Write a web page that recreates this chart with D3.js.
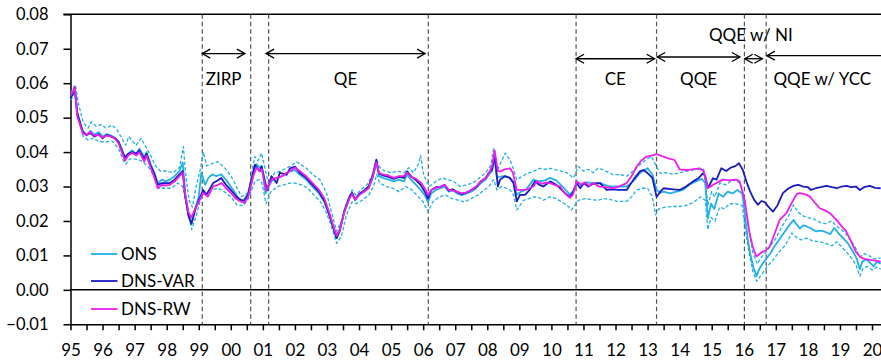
<!DOCTYPE html>
<html>
<head>
<meta charset="utf-8">
<script src="https://cdn.jsdelivr.net/npm/d3@7"></script>
<style>
  html, body { margin: 0; padding: 0; background: #fff; }
  svg { display: block; font-family: Lato, "Open Sans", sans-serif; }
</style>
</head>
<body>
<svg id="chart" width="881" height="363"></svg>
<script>
// Year tick labels on the horizontal axis (two-digit years)
const yearLabels = ["95","96","97","98","99","00","01","02","03","04","05","06","07","08","09","10","11","12","13","14","15","16","17","18","19","20"];
const yTicks = [-0.01, 0, 0.01, 0.02, 0.03, 0.04, 0.05, 0.06, 0.07, 0.08];

// Policy regime boundaries (decimal years) and labelled spans
const regimeLines = [1999.11, 2000.62, 2001.18, 2006.16, 2010.77, 2013.28, 2016.02, 2016.70];
const regimeSpans = [
  { label: "ZIRP",        from: 1999.11, to: 2000.44, arrowY: 0.0686, textY: 0.0595, left: true, right: true },
  { label: "QE",          from: 2001.10, to: 2006.06, arrowY: 0.0686, textY: 0.0595, left: true, right: true },
  { label: "CE",          from: 2010.77, to: 2013.22, arrowY: 0.0671, textY: 0.0595, left: true, right: true },
  { label: "QQE",         from: 2013.30, to: 2015.88, arrowY: 0.0676, textY: 0.0595, left: true, right: true },
  { label: "QQE w/ NI",   from: 2016.03, to: 2016.58, arrowY: 0.0671, textY: 0.0723, left: true, right: true, textAt: 2016.22 },
  { label: "QQE w/ YCC",  from: 2016.72, to: 2021.00, arrowY: 0.0680, textY: 0.0595, left: true, right: false, textAt: 2018.45 }
];

// ONS (solid) with its upper / lower dashed bands, DNS-VAR and DNS-RW: [year, value]
const onsMid = [
[1995.00,.0560],[1995.08,.0575],[1995.13,.0590],[1995.21,.0510],[1995.38,.0460],[1995.50,.0448],[1995.62,.0462],[1995.75,.0450],[1995.88,.0458],[1996.00,.0445],[1996.13,.0452],[1996.27,.0448],[1996.40,.0440],[1996.50,.0430],[1996.62,.0405],[1996.70,.0380],[1996.80,.0395],[1996.92,.0405],[1997.05,.0395],[1997.15,.0410],[1997.30,.0385],[1997.37,.0400],[1997.50,.0365],[1997.62,.0340],[1997.72,.0310],[1997.85,.0320],[1997.97,.0315],[1998.10,.0320],[1998.25,.0330],[1998.40,.0345],[1998.50,.0370],[1998.58,.0280],[1998.68,.0220],[1998.77,.0190],[1998.90,.0240],[1999.00,.0270],[1999.08,.0340],[1999.20,.0305],[1999.30,.0325],[1999.42,.0335],[1999.55,.0330],[1999.70,.0335],[1999.85,.0320],[2000.00,.0300],[2000.15,.0280],[2000.25,.0260],[2000.42,.0262],[2000.55,.0285],[2000.70,.0340],[2000.80,.0365],[2000.90,.0355],[2000.97,.0360],[2001.08,.0280],[2001.18,.0300],[2001.30,.0320],[2001.45,.0325],[2001.60,.0330],[2001.75,.0340],[2001.90,.0345],[2002.00,.0348],[2002.15,.0335],[2002.35,.0320],[2002.55,.0300],[2002.75,.0280],[2002.92,.0255],[2003.08,.0215],[2003.20,.0180],[2003.30,.0150],[2003.40,.0175],[2003.55,.0230],[2003.70,.0265],[2003.78,.0280],[2003.88,.0260],[2004.00,.0275],[2004.15,.0285],[2004.30,.0295],[2004.42,.0325],[2004.54,.0370],[2004.62,.0330],[2004.75,.0325],[2004.92,.0320],[2005.08,.0315],[2005.25,.0320],[2005.40,.0315],[2005.50,.0335],[2005.62,.0320],[2005.78,.0305],[2005.92,.0290],[2006.05,.0275],[2006.15,.0255],[2006.25,.0280],[2006.40,.0290],[2006.55,.0295],[2006.67,.0300],[2006.80,.0285],[2006.92,.0290],[2007.05,.0280],[2007.20,.0275],[2007.35,.0280],[2007.50,.0285],[2007.65,.0295],[2007.80,.0310],[2007.95,.0320],[2008.05,.0335],[2008.15,.0345],[2008.23,.0385],[2008.30,.0325],[2008.40,.0329],[2008.55,.0330],[2008.70,.0325],[2008.80,.0315],[2008.92,.0276],[2009.05,.0285],[2009.20,.0290],[2009.44,.0320],[2009.60,.0315],[2009.80,.0318],[2009.96,.0325],[2010.15,.0318],[2010.35,.0300],[2010.58,.0276],[2010.70,.0290],[2010.80,.0315],[2010.92,.0305],[2011.10,.0312],[2011.30,.0310],[2011.52,.0310],[2011.75,.0302],[2011.95,.0300],[2012.15,.0300],[2012.35,.0300],[2012.55,.0315],[2012.76,.0339],[2013.00,.0353],[2013.15,.0335],[2013.28,.0290],[2013.40,.0282],[2013.50,.0285],[2013.70,.0280],[2013.90,.0285],[2014.10,.0290],[2014.30,.0305],[2014.50,.0315],[2014.70,.0322],[2014.80,.0310],[2014.88,.0208],[2014.98,.0250],[2015.08,.0235],[2015.22,.0280],[2015.35,.0270],[2015.50,.0285],[2015.65,.0280],[2015.80,.0290],[2015.95,.0280],[2016.03,.0225],[2016.12,.0150],[2016.20,.0105],[2016.30,.0065],[2016.40,.0040],[2016.48,.0060],[2016.58,.0075],[2016.70,.0090],[2016.82,.0105],[2016.95,.0125],[2017.10,.0145],[2017.25,.0165],[2017.40,.0185],[2017.55,.0203],[2017.65,.0190],[2017.75,.0178],[2017.85,.0187],[2017.96,.0184],[2018.10,.0178],[2018.25,.0170],[2018.40,.0172],[2018.55,.0168],[2018.70,.0162],[2018.82,.0180],[2018.95,.0165],[2019.10,.0150],[2019.25,.0135],[2019.40,.0112],[2019.52,.0092],[2019.62,.0060],[2019.70,.0082],[2019.82,.0088],[2019.93,.0080],[2020.05,.0068],[2020.15,.0082],[2020.27,.0076]
];
const onsHi = [
[1995.00,.0570],[1995.15,.0595],[1995.25,.0540],[1995.40,.0485],[1995.55,.0470],[1995.65,.0488],[1995.80,.0475],[1995.95,.0480],[1996.10,.0470],[1996.30,.0478],[1996.45,.0465],[1996.60,.0440],[1996.72,.0420],[1996.82,.0445],[1996.95,.0430],[1997.05,.0420],[1997.20,.0440],[1997.35,.0415],[1997.50,.0390],[1997.65,.0360],[1997.80,.0345],[1998.00,.0345],[1998.20,.0340],[1998.40,.0355],[1998.52,.0416],[1998.60,.0330],[1998.70,.0260],[1998.80,.0240],[1998.92,.0300],[1999.05,.0350],[1999.14,.0400],[1999.25,.0360],[1999.45,.0368],[1999.60,.0372],[1999.76,.0358],[1999.90,.0345],[2000.07,.0320],[2000.20,.0295],[2000.33,.0271],[2000.54,.0281],[2000.75,.0387],[2000.85,.0375],[2000.96,.0397],[2001.17,.0310],[2001.37,.0340],[2001.55,.0345],[2001.74,.0353],[2001.90,.0362],[2002.05,.0372],[2002.20,.0362],[2002.36,.0353],[2002.55,.0335],[2002.78,.0320],[2002.99,.0280],[2003.10,.0240],[2003.30,.0170],[2003.45,.0200],[2003.60,.0250],[2003.78,.0290],[2003.90,.0275],[2004.05,.0290],[2004.25,.0305],[2004.45,.0340],[2004.55,.0375],[2004.65,.0355],[2004.80,.0345],[2005.00,.0340],[2005.20,.0345],[2005.40,.0340],[2005.55,.0355],[2005.70,.0340],[2005.85,.0365],[2005.92,.0390],[2006.00,.0340],[2006.10,.0315],[2006.20,.0300],[2006.40,.0315],[2006.60,.0325],[2006.75,.0320],[2006.95,.0315],[2007.15,.0300],[2007.35,.0305],[2007.55,.0310],[2007.75,.0325],[2007.95,.0340],[2008.10,.0360],[2008.20,.0410],[2008.30,.0345],[2008.45,.0375],[2008.56,.0397],[2008.71,.0377],[2008.82,.0350],[2008.92,.0320],[2009.10,.0330],[2009.25,.0338],[2009.44,.0344],[2009.65,.0353],[2009.80,.0350],[2009.96,.0353],[2010.15,.0348],[2010.30,.0345],[2010.48,.0340],[2010.69,.0325],[2010.84,.0358],[2011.00,.0345],[2011.15,.0350],[2011.30,.0340],[2011.45,.0353],[2011.62,.0348],[2011.80,.0340],[2011.93,.0334],[2012.15,.0335],[2012.35,.0330],[2012.55,.0345],[2012.76,.0363],[2012.95,.0378],[2013.12,.0387],[2013.28,.0358],[2013.40,.0338],[2013.60,.0340],[2013.80,.0335],[2014.00,.0340],[2014.25,.0345],[2014.50,.0350],[2014.75,.0350],[2014.88,.0245],[2015.00,.0285],[2015.10,.0270],[2015.25,.0310],[2015.45,.0305],[2015.65,.0320],[2015.90,.0310],[2016.03,.0260],[2016.15,.0180],[2016.28,.0110],[2016.42,.0075],[2016.55,.0095],[2016.70,.0110],[2016.85,.0130],[2017.00,.0150],[2017.20,.0185],[2017.40,.0215],[2017.55,.0247],[2017.70,.0225],[2017.85,.0215],[2018.00,.0210],[2018.20,.0205],[2018.40,.0195],[2018.55,.0192],[2018.74,.0200],[2018.90,.0185],[2019.10,.0170],[2019.30,.0150],[2019.50,.0120],[2019.62,.0095],[2019.75,.0105],[2019.90,.0100],[2020.05,.0090],[2020.27,.0092]
];
const onsLo = [
[1995.00,.0550],[1995.15,.0570],[1995.25,.0495],[1995.40,.0445],[1995.55,.0435],[1995.70,.0440],[1995.90,.0430],[1996.10,.0430],[1996.30,.0432],[1996.50,.0410],[1996.65,.0375],[1996.72,.0365],[1996.85,.0380],[1997.00,.0380],[1997.20,.0375],[1997.40,.0360],[1997.55,.0340],[1997.75,.0295],[1997.95,.0295],[1998.15,.0295],[1998.35,.0310],[1998.50,.0300],[1998.62,.0242],[1998.78,.0175],[1998.92,.0215],[1999.05,.0260],[1999.15,.0280],[1999.30,.0271],[1999.40,.0290],[1999.60,.0295],[1999.80,.0285],[2000.00,.0270],[2000.20,.0245],[2000.40,.0245],[2000.55,.0265],[2000.75,.0315],[2000.88,.0320],[2000.97,.0310],[2001.10,.0250],[2001.25,.0285],[2001.45,.0300],[2001.65,.0305],[2001.85,.0310],[2002.00,.0310],[2002.20,.0305],[2002.40,.0295],[2002.60,.0275],[2002.80,.0255],[2002.95,.0230],[2003.10,.0195],[2003.30,.0135],[2003.45,.0155],[2003.60,.0215],[2003.78,.0255],[2003.90,.0250],[2004.10,.0260],[2004.30,.0275],[2004.45,.0300],[2004.55,.0335],[2004.65,.0310],[2004.85,.0300],[2005.05,.0295],[2005.25,.0285],[2005.45,.0300],[2005.65,.0290],[2005.85,.0270],[2006.00,.0255],[2006.15,.0227],[2006.30,.0255],[2006.50,.0270],[2006.70,.0275],[2006.90,.0265],[2007.10,.0260],[2007.30,.0255],[2007.50,.0265],[2007.70,.0275],[2007.90,.0290],[2008.05,.0300],[2008.20,.0320],[2008.30,.0290],[2008.45,.0300],[2008.60,.0295],[2008.71,.0290],[2008.82,.0275],[2008.92,.0232],[2009.13,.0260],[2009.30,.0265],[2009.44,.0270],[2009.60,.0268],[2009.75,.0260],[2009.95,.0270],[2010.15,.0265],[2010.37,.0252],[2010.50,.0245],[2010.63,.0232],[2010.84,.0260],[2011.05,.0265],[2011.25,.0262],[2011.45,.0260],[2011.65,.0265],[2011.85,.0262],[2012.05,.0257],[2012.35,.0257],[2012.50,.0270],[2012.66,.0290],[2012.85,.0295],[2013.00,.0295],[2013.15,.0270],[2013.25,.0218],[2013.35,.0235],[2013.55,.0240],[2013.75,.0242],[2014.00,.0242],[2014.20,.0245],[2014.45,.0255],[2014.65,.0270],[2014.80,.0260],[2014.88,.0175],[2014.98,.0210],[2015.10,.0200],[2015.25,.0240],[2015.40,.0235],[2015.55,.0250],[2015.75,.0250],[2015.95,.0245],[2016.03,.0190],[2016.15,.0115],[2016.28,.0055],[2016.40,.0025],[2016.48,.0035],[2016.60,.0050],[2016.75,.0070],[2016.90,.0085],[2017.10,.0110],[2017.30,.0130],[2017.50,.0165],[2017.65,.0152],[2017.80,.0145],[2017.96,.0150],[2018.15,.0142],[2018.35,.0140],[2018.55,.0135],[2018.75,.0128],[2018.90,.0140],[2019.10,.0120],[2019.30,.0100],[2019.50,.0072],[2019.62,.0040],[2019.72,.0062],[2019.85,.0068],[2020.00,.0058],[2020.15,.0066],[2020.27,.0060]
];
const dnsVar = [
[1995.00,.0555],[1995.08,.0570],[1995.13,.0585],[1995.21,.0515],[1995.38,.0460],[1995.50,.0450],[1995.62,.0455],[1995.75,.0445],[1995.88,.0452],[1996.00,.0440],[1996.13,.0450],[1996.27,.0445],[1996.40,.0440],[1996.50,.0430],[1996.62,.0400],[1996.70,.0385],[1996.80,.0395],[1996.92,.0400],[1997.05,.0395],[1997.15,.0405],[1997.30,.0380],[1997.37,.0395],[1997.50,.0360],[1997.62,.0335],[1997.72,.0305],[1997.85,.0310],[1997.97,.0310],[1998.10,.0310],[1998.25,.0320],[1998.40,.0335],[1998.50,.0345],[1998.58,.0270],[1998.68,.0215],[1998.77,.0192],[1998.90,.0235],[1999.00,.0260],[1999.14,.0290],[1999.24,.0276],[1999.45,.0310],[1999.60,.0318],[1999.70,.0325],[1999.85,.0305],[2000.00,.0290],[2000.17,.0271],[2000.33,.0260],[2000.42,.0258],[2000.54,.0276],[2000.75,.0363],[2000.90,.0344],[2000.96,.0358],[2001.13,.0290],[2001.27,.0330],[2001.43,.0310],[2001.53,.0340],[2001.74,.0334],[2001.85,.0353],[2002.00,.0358],[2002.15,.0340],[2002.35,.0325],[2002.55,.0305],[2002.75,.0285],[2002.92,.0258],[2003.08,.0215],[2003.20,.0180],[2003.30,.0150],[2003.40,.0172],[2003.55,.0232],[2003.70,.0270],[2003.78,.0282],[2003.88,.0262],[2004.00,.0278],[2004.15,.0288],[2004.30,.0300],[2004.42,.0330],[2004.54,.0378],[2004.62,.0338],[2004.75,.0332],[2004.92,.0328],[2005.08,.0322],[2005.25,.0328],[2005.40,.0325],[2005.50,.0344],[2005.62,.0330],[2005.78,.0318],[2005.92,.0305],[2006.05,.0285],[2006.15,.0265],[2006.25,.0290],[2006.40,.0298],[2006.55,.0300],[2006.67,.0305],[2006.80,.0288],[2006.92,.0292],[2007.05,.0285],[2007.20,.0278],[2007.35,.0282],[2007.50,.0290],[2007.65,.0298],[2007.80,.0315],[2007.95,.0325],[2008.05,.0340],[2008.15,.0350],[2008.23,.0390],[2008.33,.0300],[2008.40,.0320],[2008.55,.0330],[2008.70,.0325],[2008.82,.0310],[2008.92,.0257],[2009.02,.0276],[2009.18,.0276],[2009.32,.0290],[2009.49,.0315],[2009.62,.0305],[2009.75,.0300],[2009.96,.0315],[2010.10,.0308],[2010.22,.0300],[2010.48,.0276],[2010.58,.0270],[2010.68,.0285],[2010.79,.0310],[2010.90,.0295],[2011.02,.0310],[2011.15,.0300],[2011.30,.0308],[2011.52,.0310],[2011.72,.0290],[2011.90,.0292],[2012.10,.0290],[2012.35,.0290],[2012.56,.0320],[2012.76,.0344],[2012.87,.0348],[2013.00,.0339],[2013.15,.0325],[2013.28,.0270],[2013.40,.0285],[2013.50,.0295],[2013.80,.0292],[2014.00,.0290],[2014.20,.0300],[2014.42,.0315],[2014.60,.0325],[2014.73,.0339],[2014.80,.0330],[2014.88,.0295],[2015.04,.0324],[2015.15,.0320],[2015.30,.0353],[2015.45,.0345],[2015.60,.0355],[2015.75,.0360],[2015.85,.0368],[2015.97,.0348],[2016.10,.0310],[2016.20,.0285],[2016.32,.0262],[2016.44,.0247],[2016.55,.0258],[2016.65,.0255],[2016.78,.0240],[2016.91,.0227],[2017.05,.0245],[2017.22,.0281],[2017.40,.0295],[2017.55,.0302],[2017.70,.0305],[2017.85,.0300],[2018.00,.0298],[2018.10,.0290],[2018.25,.0295],[2018.40,.0298],[2018.58,.0302],[2018.75,.0298],[2018.90,.0295],[2019.05,.0300],[2019.20,.0302],[2019.35,.0298],[2019.50,.0300],[2019.62,.0290],[2019.75,.0298],[2019.93,.0302],[2020.10,.0296],[2020.27,.0295]
];
const dnsRw = [
[1995.00,.0565],[1995.08,.0575],[1995.13,.0590],[1995.21,.0505],[1995.38,.0455],[1995.50,.0450],[1995.62,.0458],[1995.75,.0448],[1995.88,.0450],[1996.00,.0442],[1996.13,.0448],[1996.27,.0445],[1996.40,.0438],[1996.50,.0425],[1996.62,.0395],[1996.70,.0375],[1996.80,.0390],[1996.92,.0398],[1997.05,.0390],[1997.15,.0400],[1997.30,.0372],[1997.37,.0390],[1997.50,.0355],[1997.62,.0325],[1997.72,.0295],[1997.85,.0305],[1997.97,.0303],[1998.10,.0305],[1998.25,.0315],[1998.40,.0330],[1998.50,.0340],[1998.58,.0275],[1998.68,.0225],[1998.77,.0210],[1998.90,.0238],[1999.00,.0255],[1999.14,.0282],[1999.28,.0271],[1999.45,.0300],[1999.60,.0305],[1999.72,.0310],[1999.85,.0295],[2000.00,.0282],[2000.15,.0265],[2000.28,.0258],[2000.42,.0252],[2000.55,.0272],[2000.70,.0330],[2000.80,.0355],[2000.90,.0345],[2000.97,.0350],[2001.10,.0288],[2001.18,.0305],[2001.30,.0322],[2001.45,.0325],[2001.60,.0330],[2001.75,.0340],[2001.90,.0348],[2002.00,.0355],[2002.15,.0345],[2002.35,.0330],[2002.55,.0310],[2002.75,.0290],[2002.92,.0265],[2003.08,.0222],[2003.20,.0185],[2003.30,.0157],[2003.40,.0175],[2003.55,.0228],[2003.70,.0265],[2003.78,.0278],[2003.88,.0262],[2004.00,.0275],[2004.15,.0285],[2004.30,.0295],[2004.42,.0325],[2004.54,.0370],[2004.62,.0340],[2004.75,.0335],[2004.92,.0332],[2005.08,.0325],[2005.25,.0330],[2005.40,.0330],[2005.50,.0340],[2005.62,.0328],[2005.78,.0322],[2005.92,.0312],[2006.05,.0295],[2006.15,.0275],[2006.25,.0290],[2006.40,.0296],[2006.55,.0300],[2006.67,.0305],[2006.80,.0290],[2006.92,.0288],[2007.05,.0285],[2007.20,.0280],[2007.35,.0283],[2007.50,.0290],[2007.65,.0300],[2007.80,.0315],[2007.95,.0325],[2008.05,.0338],[2008.15,.0360],[2008.23,.0405],[2008.33,.0345],[2008.42,.0344],[2008.55,.0350],[2008.71,.0353],[2008.80,.0340],[2008.92,.0290],[2009.05,.0290],[2009.18,.0290],[2009.32,.0295],[2009.44,.0300],[2009.54,.0315],[2009.70,.0308],[2009.85,.0312],[2009.96,.0310],[2010.10,.0305],[2010.27,.0300],[2010.42,.0280],[2010.58,.0267],[2010.68,.0278],[2010.79,.0315],[2010.92,.0305],[2011.05,.0312],[2011.18,.0302],[2011.30,.0310],[2011.45,.0302],[2011.52,.0300],[2011.70,.0298],[2011.93,.0295],[2012.10,.0300],[2012.35,.0310],[2012.50,.0330],[2012.66,.0358],[2012.80,.0375],[2012.97,.0387],[2013.12,.0390],[2013.28,.0394],[2013.45,.0388],[2013.65,.0382],[2013.84,.0377],[2014.00,.0350],[2014.20,.0348],[2014.40,.0350],[2014.62,.0353],[2014.75,.0345],[2014.88,.0295],[2015.00,.0302],[2015.14,.0310],[2015.35,.0320],[2015.55,.0318],[2015.75,.0320],[2015.87,.0315],[2016.03,.0260],[2016.10,.0215],[2016.18,.0165],[2016.28,.0125],[2016.39,.0097],[2016.50,.0105],[2016.60,.0111],[2016.70,.0115],[2016.81,.0126],[2016.95,.0160],[2017.12,.0203],[2017.33,.0223],[2017.54,.0260],[2017.65,.0278],[2017.75,.0281],[2017.90,.0278],[2018.05,.0272],[2018.20,.0255],[2018.37,.0237],[2018.55,.0230],[2018.72,.0220],[2018.89,.0203],[2019.05,.0185],[2019.20,.0169],[2019.35,.0140],[2019.50,.0110],[2019.62,.0097],[2019.75,.0090],[2019.93,.0087],[2020.10,.0085],[2020.27,.0082]
];

const series = [
  { name: "ONS",     data: onsMid, color: "#22b0e8", width: 1.8 },
  { name: "DNS-VAR", data: dnsVar, color: "#1a1ac2", width: 1.8 },
  { name: "DNS-RW",  data: dnsRw,  color: "#f01cf0", width: 1.8 }
];

const svg = d3.select("#chart");
const plotL = 70.5, plotR = 881, plotT = 14.3, plotB = 324.3;

const x = d3.scaleLinear().domain([1995, 2020]).range([plotL, plotL + 25 * 32.06]);
const y = d3.scaleLinear().domain([-0.01, 0.08]).range([plotB, plotT]);

svg.append("defs").append("clipPath").attr("id", "plot")
  .append("rect").attr("x", plotL).attr("y", plotT - 2).attr("width", plotR - plotL).attr("height", plotB - plotT + 4);

// Regime boundaries
svg.append("g").selectAll("line").data(regimeLines).join("line")
  .attr("x1", d => x(d)).attr("x2", d => x(d))
  .attr("y1", plotT).attr("y2", plotB)
  .attr("stroke", "#555").attr("stroke-width", 1.2).attr("stroke-dasharray", "4.5,3");

// Zero line
svg.append("line").attr("x1", plotL).attr("x2", plotR).attr("y1", y(0)).attr("y2", y(0))
  .attr("stroke", "#000").attr("stroke-width", 1.5);

// Top border
svg.append("line").attr("x1", plotL - 7).attr("x2", plotR).attr("y1", plotT).attr("y2", plotT)
  .attr("stroke", "#000").attr("stroke-width", 1.5);

// Y axis
const yAxis = svg.append("g").attr("transform", `translate(${plotL},0)`)
  .call(d3.axisLeft(y).tickValues(yTicks).tickFormat(d3.format(".2f")).tickSize(7).tickSizeOuter(0).tickPadding(15));
yAxis.select(".domain").attr("stroke-width", 1.5);
yAxis.selectAll(".tick line").attr("stroke-width", 1.5);
yAxis.selectAll("text").attr("font-size", 16.5).attr("fill", "#000").attr("font-family", "Lato, sans-serif");

// X axis: half-year ticks, labels at each January
const halfYears = d3.range(0, 51).map(i => 1995 + i * 0.5);
const xAxis = svg.append("g").attr("transform", `translate(0,${plotB})`)
  .call(d3.axisBottom(x).tickValues(halfYears)
    .tickFormat(d => Number.isInteger(d) ? yearLabels[d - 1995] : "")
    .tickSize(6).tickSizeOuter(0).tickPadding(14));
xAxis.select(".domain").attr("stroke-width", 1.5).attr("d", `M${plotL},0.5H${plotR}`);
xAxis.selectAll(".tick line").attr("stroke-width", 1.5);
xAxis.selectAll("text").attr("font-size", 17).attr("fill", "#000").attr("font-family", "Lato, sans-serif");

// Lines
const line = d3.line().x(d => x(d[0])).y(d => y(d[1]));
const plot = svg.append("g").attr("clip-path", "url(#plot)");
[onsHi, onsLo].forEach(band => {
  plot.append("path").datum(band).attr("d", line)
    .attr("fill", "none").attr("stroke", "#22b0e8").attr("stroke-width", 1.3)
    .attr("stroke-dasharray", "3.5,2").attr("stroke-linejoin", "round");
});
series.forEach(s => {
  plot.append("path").datum(s.data).attr("d", line)
    .attr("fill", "none").attr("stroke", s.color).attr("stroke-width", s.width)
    .attr("stroke-linejoin", "round");
});

// Regime arrows and labels
const head = 8, half = 4.5;
const ann = svg.append("g").attr("stroke", "#000").attr("stroke-width", 1.3).attr("fill", "none");
regimeSpans.forEach(r => {
  const x0 = x(r.from), x1 = Math.min(x(r.to), plotR + 20), yy = y(r.arrowY);
  ann.append("line").attr("x1", x0).attr("x2", x1).attr("y1", yy).attr("y2", yy);
  if (r.left) ann.append("path").attr("d", `M${x0 + head},${yy - half}L${x0},${yy}L${x0 + head},${yy + half}`);
  if (r.right) ann.append("path").attr("d", `M${x1 - head},${yy - half}L${x1},${yy}L${x1 - head},${yy + half}`);
  const tx = r.textAt !== undefined ? x(r.textAt) : (x(r.from) + x(r.to)) / 2;
  svg.append("text").attr("x", tx).attr("y", y(r.textY))
    .attr("text-anchor", "middle").attr("font-size", 17).attr("fill", "#000")
    .text(r.label);
});

// Legend
const legend = svg.append("g");
series.forEach((s, i) => {
  const ly = [254, 281, 309][i];
  legend.append("line").attr("x1", 91).attr("x2", 117.5).attr("y1", ly).attr("y2", ly)
    .attr("stroke", s.color).attr("stroke-width", 1.8);
  legend.append("text").attr("x", 121).attr("y", ly + 6).attr("font-size", 17).attr("fill", "#000").text(s.name);
});
</script>
</body>
</html>
